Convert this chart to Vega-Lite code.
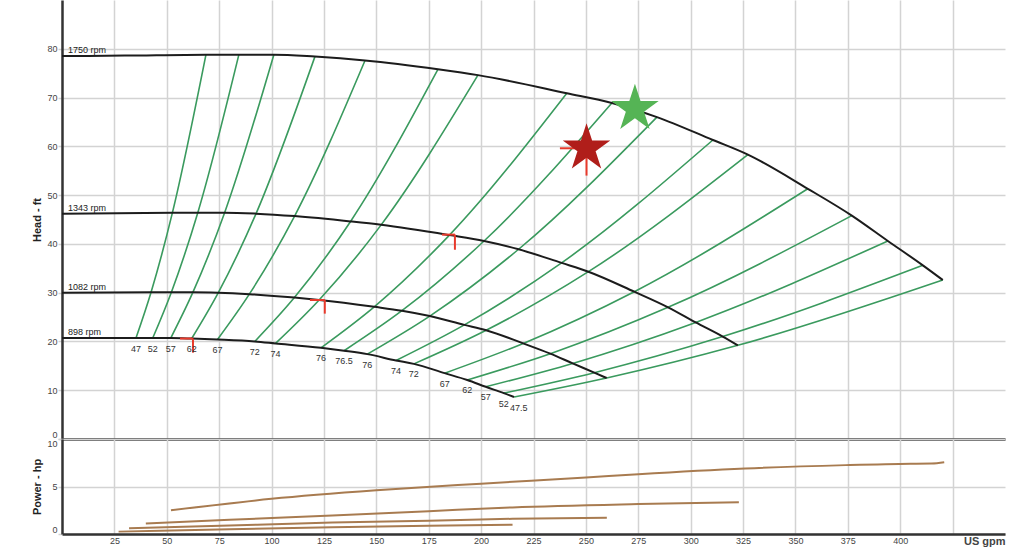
{
  "$schema": "https://vega.github.io/schema/vega-lite/v6.json",
  "padding": {"left": 31, "top": 0, "right": 5, "bottom": 6},
  "bounds": "flush",
  "spacing": 0,
  "config": {
    "view": {"stroke": null},
    "axis": {
      "gridColor": "#d3d3d3", "gridWidth": 1.5,
      "labelFont": "Liberation Sans", "labelFontSize": 9, "labelColor": "#444",
      "titleFont": "Liberation Sans", "titleFontSize": 11, "titleFontWeight": "bold", "titleColor": "#222",
      "domainColor": "#333", "domainWidth": 2.5,
      "tickColor": "#d3d3d3", "tickSize": 4, "tickWidth": 1.5
    }
  },
  "datasets": {
    "curves": [
      {"s": "1750", "q": 0, "h": 78.5}, {"s": "1750", "q": 30, "h": 78.6}, {"s": "1750", "q": 68.7, "h": 78.8}, {"s": "1750", "q": 84.4, "h": 78.8}, {"s": "1750", "q": 101.1, "h": 78.8}, {"s": "1750", "q": 120.7, "h": 78.4}, {"s": "1750", "q": 144.6, "h": 77.6}, {"s": "1750", "q": 179.4, "h": 75.8}, {"s": "1750", "q": 198.5, "h": 74.6}, {"s": "1750", "q": 240.9, "h": 70.9}, {"s": "1750", "q": 262.4, "h": 68.9}, {"s": "1750", "q": 283.9, "h": 66.0}, {"s": "1750", "q": 310.6, "h": 61.3}, {"s": "1750", "q": 327.3, "h": 58.3}, {"s": "1750", "q": 355.9, "h": 51.3}, {"s": "1750", "q": 376.9, "h": 45.8}, {"s": "1750", "q": 394.1, "h": 40.6}, {"s": "1750", "q": 410.8, "h": 35.6}, {"s": "1750", "q": 420.3, "h": 32.6},
      {"s": "1343", "q": 0, "h": 46.2}, {"s": "1343", "q": 52.7, "h": 46.4}, {"s": "1343", "q": 64.8, "h": 46.4}, {"s": "1343", "q": 77.6, "h": 46.4}, {"s": "1343", "q": 92.6, "h": 46.2}, {"s": "1343", "q": 111.0, "h": 45.7}, {"s": "1343", "q": 137.7, "h": 44.6}, {"s": "1343", "q": 152.3, "h": 43.9}, {"s": "1343", "q": 184.9, "h": 41.8}, {"s": "1343", "q": 201.4, "h": 40.6}, {"s": "1343", "q": 217.9, "h": 38.9}, {"s": "1343", "q": 238.4, "h": 36.1}, {"s": "1343", "q": 251.2, "h": 34.3}, {"s": "1343", "q": 273.1, "h": 30.2}, {"s": "1343", "q": 289.2, "h": 27.0}, {"s": "1343", "q": 302.4, "h": 23.9}, {"s": "1343", "q": 315.3, "h": 21.0}, {"s": "1343", "q": 322.5, "h": 19.2},
      {"s": "1082", "q": 0, "h": 30.0}, {"s": "1082", "q": 42.5, "h": 30.1}, {"s": "1082", "q": 52.2, "h": 30.1}, {"s": "1082", "q": 62.5, "h": 30.1}, {"s": "1082", "q": 74.6, "h": 30.0}, {"s": "1082", "q": 89.4, "h": 29.7}, {"s": "1082", "q": 110.9, "h": 29.0}, {"s": "1082", "q": 122.7, "h": 28.5}, {"s": "1082", "q": 149.0, "h": 27.1}, {"s": "1082", "q": 162.2, "h": 26.3}, {"s": "1082", "q": 175.5, "h": 25.2}, {"s": "1082", "q": 192.0, "h": 23.4}, {"s": "1082", "q": 202.4, "h": 22.3}, {"s": "1082", "q": 220.1, "h": 19.6}, {"s": "1082", "q": 233.0, "h": 17.5}, {"s": "1082", "q": 243.7, "h": 15.5}, {"s": "1082", "q": 254.0, "h": 13.6}, {"s": "1082", "q": 259.9, "h": 12.5},
      {"s": "898", "q": 0, "h": 20.7}, {"s": "898", "q": 35.3, "h": 20.7}, {"s": "898", "q": 43.3, "h": 20.7}, {"s": "898", "q": 51.9, "h": 20.7}, {"s": "898", "q": 61.9, "h": 20.6}, {"s": "898", "q": 74.2, "h": 20.4}, {"s": "898", "q": 92.0, "h": 20.0}, {"s": "898", "q": 101.9, "h": 19.6}, {"s": "898", "q": 123.6, "h": 18.7}, {"s": "898", "q": 134.6, "h": 18.1}, {"s": "898", "q": 145.7, "h": 17.4}, {"s": "898", "q": 159.4, "h": 16.1}, {"s": "898", "q": 167.9, "h": 15.4}, {"s": "898", "q": 182.6, "h": 13.5}, {"s": "898", "q": 193.4, "h": 12.1}, {"s": "898", "q": 202.2, "h": 10.7}, {"s": "898", "q": 210.8, "h": 9.4}, {"s": "898", "q": 215.7, "h": 8.6}
    ],
    "eff": [
      {"s": 1, "q": 35.3, "h": 20.7}, {"s": 1, "q": 42.5, "h": 30.1}, {"s": 1, "q": 52.7, "h": 46.4}, {"s": 1, "q": 68.7, "h": 78.8},
      {"s": 2, "q": 43.3, "h": 20.7}, {"s": 2, "q": 52.2, "h": 30.1}, {"s": 2, "q": 64.8, "h": 46.4}, {"s": 2, "q": 84.4, "h": 78.8},
      {"s": 3, "q": 51.9, "h": 20.7}, {"s": 3, "q": 62.5, "h": 30.1}, {"s": 3, "q": 77.6, "h": 46.4}, {"s": 3, "q": 101.1, "h": 78.8},
      {"s": 4, "q": 61.9, "h": 20.6}, {"s": 4, "q": 74.6, "h": 30.0}, {"s": 4, "q": 92.6, "h": 46.2}, {"s": 4, "q": 120.7, "h": 78.4},
      {"s": 5, "q": 74.2, "h": 20.4}, {"s": 5, "q": 89.4, "h": 29.7}, {"s": 5, "q": 111.0, "h": 45.7}, {"s": 5, "q": 144.6, "h": 77.6},
      {"s": 6, "q": 92.0, "h": 20.0}, {"s": 6, "q": 110.9, "h": 29.0}, {"s": 6, "q": 137.7, "h": 44.6}, {"s": 6, "q": 179.4, "h": 75.8},
      {"s": 7, "q": 101.9, "h": 19.6}, {"s": 7, "q": 122.7, "h": 28.5}, {"s": 7, "q": 152.3, "h": 43.9}, {"s": 7, "q": 198.5, "h": 74.6},
      {"s": 8, "q": 123.6, "h": 18.7}, {"s": 8, "q": 149.0, "h": 27.1}, {"s": 8, "q": 184.9, "h": 41.8}, {"s": 8, "q": 240.9, "h": 70.9},
      {"s": 9, "q": 134.6, "h": 18.1}, {"s": 9, "q": 162.2, "h": 26.3}, {"s": 9, "q": 201.4, "h": 40.6}, {"s": 9, "q": 262.4, "h": 68.9},
      {"s": 10, "q": 145.7, "h": 17.4}, {"s": 10, "q": 175.5, "h": 25.2}, {"s": 10, "q": 217.9, "h": 38.9}, {"s": 10, "q": 283.9, "h": 66.0},
      {"s": 11, "q": 159.4, "h": 16.1}, {"s": 11, "q": 192.0, "h": 23.4}, {"s": 11, "q": 238.4, "h": 36.1}, {"s": 11, "q": 310.6, "h": 61.3},
      {"s": 12, "q": 167.9, "h": 15.4}, {"s": 12, "q": 202.4, "h": 22.3}, {"s": 12, "q": 251.2, "h": 34.3}, {"s": 12, "q": 327.3, "h": 58.3},
      {"s": 13, "q": 182.6, "h": 13.5}, {"s": 13, "q": 220.1, "h": 19.6}, {"s": 13, "q": 273.1, "h": 30.2}, {"s": 13, "q": 355.9, "h": 51.3},
      {"s": 14, "q": 193.4, "h": 12.1}, {"s": 14, "q": 233.0, "h": 17.5}, {"s": 14, "q": 289.2, "h": 27.0}, {"s": 14, "q": 376.9, "h": 45.8},
      {"s": 15, "q": 202.2, "h": 10.7}, {"s": 15, "q": 243.7, "h": 15.5}, {"s": 15, "q": 302.4, "h": 23.9}, {"s": 15, "q": 394.1, "h": 40.6},
      {"s": 16, "q": 210.8, "h": 9.4}, {"s": 16, "q": 254.0, "h": 13.6}, {"s": 16, "q": 315.3, "h": 21.0}, {"s": 16, "q": 410.8, "h": 35.6},
      {"s": 17, "q": 215.7, "h": 8.6}, {"s": 17, "q": 259.9, "h": 12.5}, {"s": 17, "q": 322.5, "h": 19.2}, {"s": 17, "q": 420.3, "h": 32.6}
    ],
    "effLabels": [
      {"t": "47", "q": 35.3, "h": 20.7}, {"t": "52", "q": 43.3, "h": 20.7}, {"t": "57", "q": 51.9, "h": 20.7}, {"t": "62", "q": 61.9, "h": 20.6}, {"t": "67", "q": 74.2, "h": 20.4}, {"t": "72", "q": 92.0, "h": 20.0}, {"t": "74", "q": 101.9, "h": 19.6}, {"t": "76", "q": 123.6, "h": 18.7}, {"t": "76.5", "q": 134.6, "h": 18.1}, {"t": "76", "q": 145.7, "h": 17.4}, {"t": "74", "q": 159.4, "h": 16.1}, {"t": "72", "q": 167.9, "h": 15.4}, {"t": "67", "q": 182.6, "h": 13.5}, {"t": "62", "q": 193.4, "h": 12.1}, {"t": "57", "q": 202.2, "h": 10.7}, {"t": "52", "q": 210.8, "h": 9.4}, {"t": "47.5", "q": 218.0, "h": 8.6}
    ],
    "rpmLabels": [
      {"t": "1750 rpm", "q": 0, "h": 78.5}, {"t": "1343 rpm", "q": 0, "h": 46.2}, {"t": "1082 rpm", "q": 0, "h": 30.0}, {"t": "898 rpm", "q": 0, "h": 20.7}
    ],
    "red": [
      {"q": 56.3, "q2": 62.5, "h": 20.6, "h2": 20.6}, {"q": 62.5, "q2": 62.5, "h": 20.6, "h2": 17.7},
      {"q": 118.3, "q2": 125.4, "h": 28.5, "h2": 28.5}, {"q": 125.4, "q2": 125.4, "h": 28.5, "h2": 25.7},
      {"q": 181.3, "q2": 187.5, "h": 41.9, "h2": 41.9}, {"q": 187.5, "q2": 187.5, "h": 41.9, "h2": 38.8},
      {"q": 237.6, "q2": 250.3, "h": 59.6, "h2": 59.6}, {"q": 250.3, "q2": 250.3, "h": 59.6, "h2": 54.0}
    ],
    "stars": [
      {"c": "duty", "q": 250.3, "h": 59.6}, {"c": "best", "q": 273.4, "h": 67.7}
    ],
    "power": [
      {"s": "1750", "q": 52, "p": 2.5}, {"s": "1750", "q": 100, "p": 3.7}, {"s": "1750", "q": 150, "p": 4.6}, {"s": "1750", "q": 200, "p": 5.3}, {"s": "1750", "q": 250, "p": 5.95}, {"s": "1750", "q": 275, "p": 6.3}, {"s": "1750", "q": 326, "p": 6.9}, {"s": "1750", "q": 374, "p": 7.25}, {"s": "1750", "q": 405, "p": 7.4}, {"s": "1750", "q": 415, "p": 7.42}, {"s": "1750", "q": 421, "p": 7.55},
      {"s": "1343", "q": 40, "p": 1.1}, {"s": "1343", "q": 80, "p": 1.5}, {"s": "1343", "q": 129, "p": 1.95}, {"s": "1343", "q": 175, "p": 2.4}, {"s": "1343", "q": 215, "p": 2.8}, {"s": "1343", "q": 275, "p": 3.15}, {"s": "1343", "q": 323, "p": 3.35},
      {"s": "1082", "q": 32, "p": 0.6}, {"s": "1082", "q": 80, "p": 0.9}, {"s": "1082", "q": 129, "p": 1.2}, {"s": "1082", "q": 175, "p": 1.4}, {"s": "1082", "q": 215, "p": 1.6}, {"s": "1082", "q": 260, "p": 1.72},
      {"s": "898", "q": 27, "p": 0.25}, {"s": "898", "q": 80, "p": 0.5}, {"s": "898", "q": 129, "p": 0.72}, {"s": "898", "q": 175, "p": 0.88}, {"s": "898", "q": 215, "p": 0.97}
    ]
  },
  "vconcat": [
    {
      "width": 943,
      "height": 439,
      "encoding": {
        "x": {"field": "q", "type": "quantitative", "scale": {"domain": [0, 450], "nice": false, "zero": false},
          "axis": {"values": [25, 50, 75, 100, 125, 150, 175, 200, 225, 250, 275, 300, 325, 350, 375, 400, 425], "labels": false, "ticks": false, "title": null}},
        "y": {"field": "h", "type": "quantitative", "scale": {"domain": [0, 90], "nice": false},
          "axis": {"values": [0, 10, 20, 30, 40, 50, 60, 70, 80], "title": "Head - ft", "labelFlush": true, "labelPadding": 1, "titleX": -25, "titleY": 219.5, "titleBaseline": "middle", "titleAngle": -90}}
      },
      "layer": [
        {"data": {"name": "eff"}, "mark": {"type": "line", "color": "#3a9a5e", "strokeWidth": 1.6, "interpolate": "monotone"}, "encoding": {"detail": {"field": "s", "type": "nominal"}}},
        {"data": {"name": "curves"}, "mark": {"type": "line", "color": "#1c1c1c", "strokeWidth": 2, "interpolate": "monotone"}, "encoding": {"detail": {"field": "s", "type": "nominal"}}},
        {"data": {"name": "red"}, "mark": {"type": "rule", "color": "#e8392b", "strokeWidth": 2}, "encoding": {"x2": {"field": "q2"}, "y2": {"field": "h2"}}},
        {"data": {"name": "stars"}, "mark": {"type": "point", "shape": "M0,-1L0.2245,-0.309L0.951,-0.309L0.3633,0.118L0.588,0.809L0,0.382L-0.588,0.809L-0.3633,0.118L-0.951,-0.309L-0.2245,-0.309Z", "filled": true, "size": 2500, "opacity": 1},
          "encoding": {"color": {"field": "c", "type": "nominal", "scale": {"domain": ["duty", "best"], "range": ["#b01e1a", "#55b455"]}, "legend": null}}},
        {"data": {"name": "effLabels"}, "mark": {"type": "text", "fontSize": 9, "dy": 10.5, "color": "#333", "font": "Liberation Sans"}, "encoding": {"text": {"field": "t"}}},
        {"data": {"name": "rpmLabels"}, "mark": {"type": "text", "fontSize": 9, "align": "left", "baseline": "bottom", "dx": 6, "dy": -1, "color": "#222", "font": "Liberation Sans"}, "encoding": {"text": {"field": "t"}}}
      ]
    },
    {
      "width": 943,
      "height": 95,
      "data": {"name": "power"},
      "mark": {"type": "line", "color": "#a87b50", "strokeWidth": 2, "interpolate": "monotone"},
      "encoding": {
        "x": {"field": "q", "type": "quantitative", "scale": {"domain": [0, 450], "nice": false, "zero": false},
          "axis": {"values": [25, 50, 75, 100, 125, 150, 175, 200, 225, 250, 275, 300, 325, 350, 375, 400, 425], "labelExpr": "datum.value >= 425 ? '' : datum.label", "ticks": false, "labelPadding": 2, "title": "US gpm", "titleAnchor": "end", "titleAlign": "right", "titleX": 943, "titleY": 7, "titleBaseline": "middle", "titleColor": "#444"}},
        "y": {"field": "p", "type": "quantitative", "scale": {"domain": [0, 10], "nice": false},
          "axis": {"values": [0, 5, 10], "title": "Power - hp", "labelFlush": true, "labelPadding": 1, "titleX": -25, "titleY": 47.5, "titleBaseline": "middle", "titleAngle": -90}},
        "detail": {"field": "s", "type": "nominal"}
      }
    }
  ]
}
